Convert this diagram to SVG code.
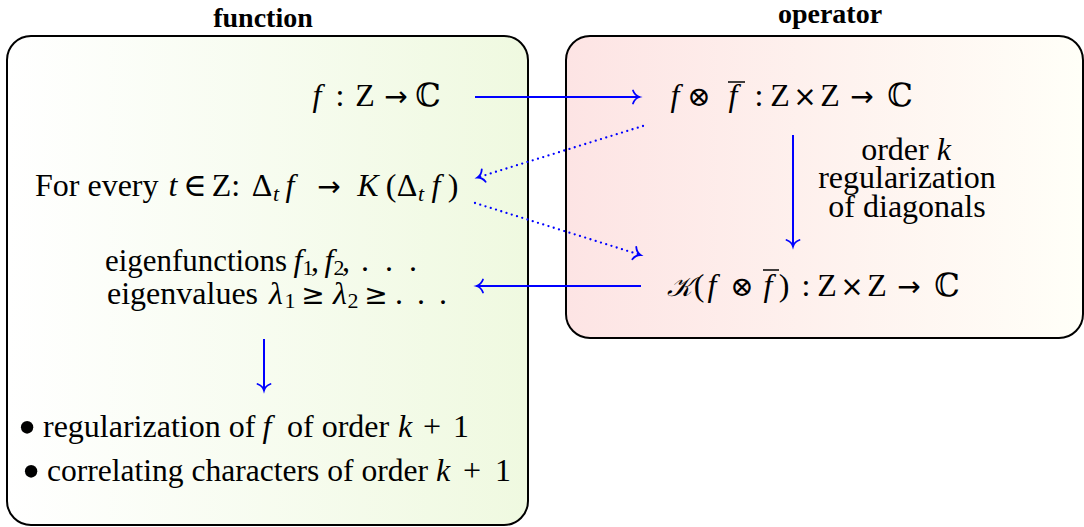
<svg xmlns="http://www.w3.org/2000/svg" width="1084" height="527" viewBox="0 0 1084 527">
<style>
text{font-family:"Liberation Serif","DejaVu Serif",serif;font-size:32px;fill:#000}
.t{font-size:28px;font-weight:bold;text-anchor:middle}
.i{font-style:italic}
.s{font-size:22px}
.m{text-anchor:middle}
.ar{font-family:"DejaVu Sans",sans-serif;font-size:28px}
.ot{font-size:28px}
.cal{font-size:27px}
.bul{font-size:52px;text-anchor:middle}
.box{stroke:#000;stroke-width:2}
.c{fill:none;stroke:#0000ff;stroke-width:2}
.d{stroke-dasharray:0 5.5;stroke-linecap:round;stroke-width:2.3}
.bar{stroke:#000;stroke-width:1.5}
</style>
<defs>
<linearGradient id="gl" x1="0" y1="0" x2="1" y2="0"><stop offset="0" stop-color="#ffffff"/><stop offset="1" stop-color="#eff9e0"/></linearGradient>
<linearGradient id="gr" x1="0" y1="0" x2="1" y2="0"><stop offset="0" stop-color="#fde4e4"/><stop offset="1" stop-color="#fffff8"/></linearGradient>
<marker id="to" markerUnits="userSpaceOnUse" markerWidth="16" markerHeight="16" viewBox="-10 -8 12 16" refX="0" refY="0" orient="auto">
<path d="M -6.5 -6.5 C -5 -2.5 -2 -0.6 0 0 C -2 0.6 -5 2.5 -6.5 6.5" fill="none" stroke="#0000ff" stroke-width="1.8" stroke-linecap="round"/>
</marker>
</defs>
<g id="function">
<rect class="box" x="7" y="36" width="521" height="489" rx="24" fill="url(#gl)"/>
<text class="t" x="263" y="27">function</text>
</g>
<g id="operator">
<rect class="box" x="566" y="36" width="517" height="302" rx="24" fill="url(#gr)"/>
<text class="t" x="830" y="23">operator</text>
</g>
<g id="n-f">
<text y="106" class="m"><tspan class="i" x="317">f</tspan><tspan x="340">:</tspan><tspan x="365">Z</tspan><tspan class="ar" x="396">→</tspan><tspan x="428">ℂ</tspan></text>
</g>
<g id="n-ff">
<text y="106" class="m"><tspan class="i" x="675">f</tspan><tspan class="ot" x="699">⊗</tspan><tspan class="i" x="733">f</tspan><tspan x="759">:</tspan><tspan x="780">Z</tspan><tspan class="ar" x="805">×</tspan><tspan x="830">Z</tspan><tspan class="ar" x="862">→</tspan><tspan x="900">ℂ</tspan></text>
<line class="bar" x1="728" y1="82" x2="745" y2="82"/>
</g>
<g id="n-delta">
<text y="196" class="m"><tspan x="35" text-anchor="start">For every</tspan><tspan class="i" x="173">t</tspan><tspan x="195">∈</tspan><tspan x="226">Z:</tspan><tspan x="262">Δ</tspan><tspan class="i s" x="276" dy="5">t</tspan><tspan class="i" x="290" dy="-5">f</tspan><tspan class="ar" x="329">→</tspan><tspan class="i" x="368">K</tspan><tspan x="391">(</tspan><tspan x="407">Δ</tspan><tspan class="i s" x="421" dy="5">t</tspan><tspan class="i" x="436" dy="-5">f</tspan><tspan x="453">)</tspan></text>
</g>
<g id="n-eigen">
<text y="271" class="m"><tspan x="105" text-anchor="start" textLength="182" lengthAdjust="spacingAndGlyphs">eigenfunctions</tspan><tspan class="i" x="298">f</tspan><tspan class="s" x="308" dy="4">1</tspan><tspan x="315" dy="-4">,</tspan><tspan class="i" x="329">f</tspan><tspan class="s" x="339" dy="4">2</tspan><tspan x="346" dy="-4">,</tspan><tspan x="365">.</tspan><tspan x="389">.</tspan><tspan x="413">.</tspan></text>
<text y="304" class="m"><tspan x="107" text-anchor="start">eigenvalues</tspan><tspan class="i" x="276">λ</tspan><tspan class="s" x="290" dy="4">1</tspan><tspan class="ar" x="313" dy="-4">≥</tspan><tspan class="i" x="340">λ</tspan><tspan class="s" x="353" dy="4">2</tspan><tspan class="ar" x="376" dy="-4">≥</tspan><tspan x="399">.</tspan><tspan x="421">.</tspan><tspan x="443">.</tspan></text>
</g>
<g id="n-reg-label">
<text x="906" y="160" class="m">order <tspan class="i">k</tspan></text>
<text x="907" y="188" class="m">regularization</text>
<text x="907" y="217" class="m">of diagonals</text>
</g>
<g id="n-K">
<text y="296" class="m"><tspan class="i cal" x="679">𝒦</tspan><tspan x="699">(</tspan><tspan class="i" x="712">f</tspan><tspan class="ot" x="742">⊗</tspan><tspan class="i" x="768">f</tspan><tspan x="784">)</tspan><tspan x="806">:</tspan><tspan x="827">Z</tspan><tspan class="ar" x="852">×</tspan><tspan x="877">Z</tspan><tspan class="ar" x="909">→</tspan><tspan x="947">ℂ</tspan></text>
<line class="bar" x1="763" y1="270" x2="779" y2="270"/>
</g>
<g id="n-result">
<text class="bul" x="27" y="445">•</text>
<text y="437" class="m"><tspan x="43" text-anchor="start">regularization of</tspan><tspan class="i" x="267">f</tspan><tspan x="287" text-anchor="start">of order</tspan><tspan class="i" x="405">k</tspan><tspan x="432">+</tspan><tspan x="461">1</tspan></text>
<text class="bul" x="31" y="489">•</text>
<text y="481" class="m"><tspan x="47" text-anchor="start" textLength="381" lengthAdjust="spacingAndGlyphs">correlating characters of order</tspan><tspan class="i" x="443">k</tspan><tspan x="472">+</tspan><tspan x="503">1</tspan></text>
</g>
<g id="connectors">
<line class="c" x1="475" y1="97" x2="639.5" y2="97" marker-end="url(#to)"/>
<line class="c d" x1="643" y1="126" x2="477.5" y2="177.5" marker-end="url(#to)"/>
<line class="c d" x1="475" y1="203" x2="640.5" y2="255" marker-end="url(#to)"/>
<line class="c" x1="793" y1="135" x2="793" y2="246.5" marker-end="url(#to)"/>
<line class="c" x1="641" y1="286" x2="476.5" y2="286" marker-end="url(#to)"/>
<line class="c" x1="264" y1="339" x2="264" y2="390.5" marker-end="url(#to)"/>
</g>
</svg>
